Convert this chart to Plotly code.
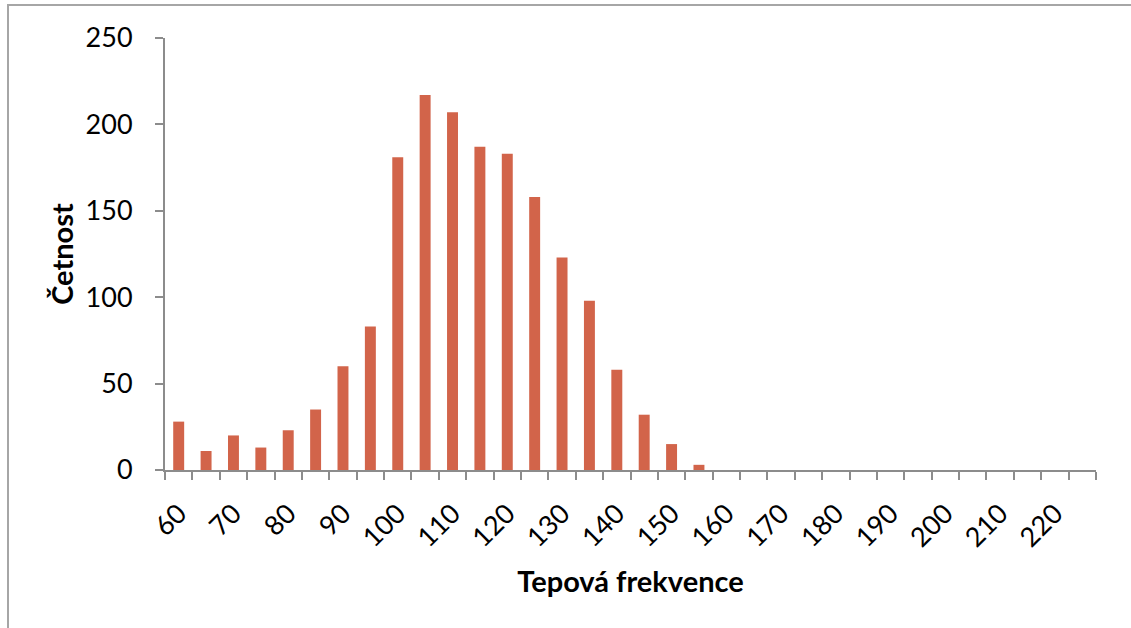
import plotly.graph_objects as go

# Heart-rate classes (bpm) and their frequencies
tepova_frekvence = [60, 65, 70, 75, 80, 85, 90, 95, 100, 105, 110, 115, 120, 125,
                    130, 135, 140, 145, 150, 155, 160, 165, 170, 175, 180, 185,
                    190, 195, 200, 205, 210, 215, 220, 225]
cetnost = [28, 11, 20, 13, 23, 35, 60, 83, 181, 217, 207, 187, 183, 158,
           123, 98, 58, 32, 15, 3, 0, 0, 0, 0, 0, 0,
           0, 0, 0, 0, 0, 0, 0, 0]
y_ticks = [0, 50, 100, 150, 200, 250]
x_labels = [60, 70, 80, 90, 100, 110, 120, 130, 140, 150, 160, 170, 180, 190,
            200, 210, 220]

step = tepova_frekvence[1] - tepova_frekvence[0]
x_lo = tepova_frekvence[0] - step / 2
x_hi = tepova_frekvence[-1] + step / 2
boundaries = [x_lo + i * step for i in range(len(tepova_frekvence) + 1)]

W, H = 1131, 628
L, R, T, B = 165, 35, 38, 158
pw, ph = W - L - R, H - T - B

AXIS = "#8c8c8c"
FONT = "Lato, Open Sans, sans-serif"

fig = go.Figure(go.Bar(
    x=tepova_frekvence, y=cetnost,
    marker=dict(color="#D2644A", line=dict(width=0)),
    width=step * 0.4,
))

fig.update_layout(
    width=W, height=H,
    margin=dict(l=L, r=R, t=T, b=B),
    plot_bgcolor="white", paper_bgcolor="white",
    showlegend=False,
    font=dict(family=FONT, color="black", size=27),
    xaxis=dict(
        range=[x_lo, x_hi], autorange=False,
        tickmode="array", tickvals=x_labels,
        ticktext=[str(v) for v in x_labels],
        tickangle=-45, ticks="", showgrid=False, zeroline=False,
        showline=True, linecolor=AXIS, linewidth=2,
        tickfont=dict(size=27), ticklabelstandoff=15,
        minor=dict(tickmode="array", tickvals=boundaries, ticks="outside",
                   ticklen=8, tickcolor=AXIS, tickwidth=2, showgrid=False),
        title=dict(text="<b>Tepová frekvence</b>", font=dict(size=29), standoff=20),
        automargin=False,
    ),
    yaxis=dict(
        range=[0, 250], autorange=False,
        tickmode="array", tickvals=y_ticks,
        ticks="outside", ticklen=8, tickcolor=AXIS, tickwidth=2,
        showgrid=False, zeroline=False,
        showline=True, linecolor=AXIS, linewidth=2,
        tickfont=dict(size=27), ticklabelstandoff=17,
        title=dict(text="<b>Četnost</b>", font=dict(size=29), standoff=3),
        automargin=False,
    ),
)

# Chart frame around the whole area
def px_x(p):
    return (p - L) / pw

def px_y(p):
    return (H - B - p) / ph

fig.add_shape(type="rect", xref="paper", yref="paper",
              x0=px_x(8), x1=px_x(W + 20), y0=px_y(H + 20), y1=px_y(5),
              line=dict(color="#a6a6a6", width=2), fillcolor="rgba(0,0,0,0)",
              layer="below")

fig.write_html("out.html")
